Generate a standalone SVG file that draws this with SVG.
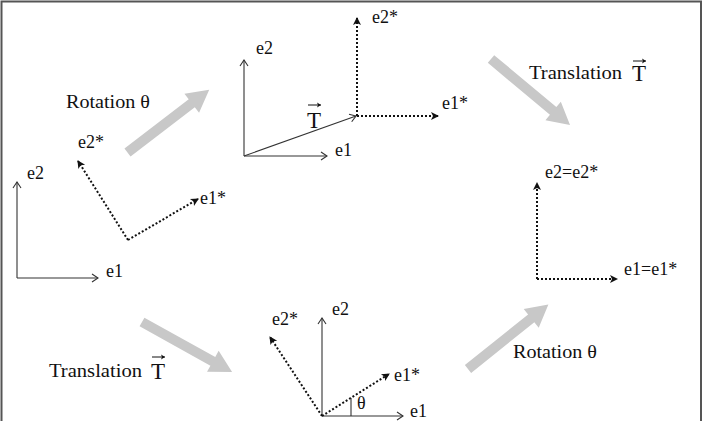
<svg xmlns="http://www.w3.org/2000/svg" width="703" height="421" viewBox="0 0 703 421">
<defs>
<style>
.ax{stroke:#333;stroke-width:1.1;fill:none}
.dt{stroke:#111;stroke-width:2;stroke-dasharray:2 2;fill:none}
.t{font-family:"Liberation Serif","Times New Roman",serif;font-size:18px;fill:#111}
.big{font-family:"Liberation Serif","Times New Roman",serif;font-size:23px;fill:#111}
.ga{fill:#c8c8c8}
</style>
<marker id="open" markerUnits="userSpaceOnUse" markerWidth="12" markerHeight="12" viewBox="-8 -6 10 12" refX="0" refY="0" orient="auto">
<path d="M-6,-4 L0,0 L-6,4" fill="none" stroke="#333" stroke-width="1.1"/>
</marker>
<marker id="fill" markerUnits="userSpaceOnUse" markerWidth="12" markerHeight="12" viewBox="-10 -6 12 12" refX="0" refY="0" orient="auto">
<path d="M1,0 L-7,-4 L-5,0 L-7,4 Z" fill="#111"/>
</marker>
<marker id="vec" markerUnits="userSpaceOnUse" markerWidth="8" markerHeight="8" viewBox="-5 -4 6 8" refX="0" refY="0" orient="auto">
<path d="M0,0 L-4,-2.5 L-3,0 L-4,2.5 Z" fill="#111"/>
</marker>
<polygon id="garrow" points="0,-5 81,-5 81,-12 103,0 81,12 81,5 0,5"/>
</defs>
<rect width="703" height="421" fill="#fff"/>
<path d="M1.5,421 V1.5 H701 V421" fill="none" stroke="#555" stroke-width="2"/>

<g id="frame-left">
<path class="ax" d="M17,278 V182" marker-end="url(#open)"/>
<path class="ax" d="M17,278 H98" marker-end="url(#open)"/>
<text class="t" x="27" y="179">e2</text>
<text class="t" x="106" y="277">e1</text>
<path class="dt" d="M128,240 L78,161" marker-end="url(#fill)"/>
<path class="dt" d="M128,240 L198,199" marker-end="url(#fill)"/>
<text class="t" x="78" y="148">e2*</text>
<text class="t" x="200" y="204">e1*</text>
</g>

<g id="frame-top">
<path class="ax" d="M244,156 V60" marker-end="url(#open)"/>
<path class="ax" d="M244,156 H327" marker-end="url(#open)"/>
<path class="ax" d="M244,156 L356,116" marker-end="url(#open)"/>
<text class="t" x="256" y="54">e2</text>
<text class="t" x="335" y="156">e1</text>
<text class="big" x="307" y="128">T</text>
<path d="M308,105 H321" stroke="#111" stroke-width="1" fill="none" marker-end="url(#vec)"/>
<path class="dt" d="M357,116 V18" marker-end="url(#fill)"/>
<path class="dt" d="M357,116 H438" marker-end="url(#fill)"/>
<text class="t" x="372" y="23">e2*</text>
<text class="t" x="442" y="109">e1*</text>
</g>

<g id="frame-right">
<path class="dt" d="M537,279 V183" marker-end="url(#fill)"/>
<path class="dt" d="M537,279 H617" marker-end="url(#fill)"/>
<text class="t" x="545" y="178">e2=e2*</text>
<text class="t" x="624" y="275">e1=e1*</text>
</g>

<g id="frame-bottom">
<path class="ax" d="M322,416 V318" marker-end="url(#open)"/>
<path class="ax" d="M322,416 H403" marker-end="url(#open)"/>
<text class="t" x="332" y="315">e2</text>
<text class="t" x="410" y="417">e1</text>
<path class="dt" d="M322,416 L270,337" marker-end="url(#fill)"/>
<path class="dt" d="M322,416 L389,374" marker-end="url(#fill)"/>
<text class="t" x="272" y="325">e2*</text>
<text class="t" x="394" y="381">e1*</text>
<path class="ax" d="M351,416 V398"/>
<text class="t" x="357" y="409">θ</text>
</g>

<g id="labels">
<text class="t" x="66" y="108" textLength="84" lengthAdjust="spacingAndGlyphs">Rotation θ</text>
<text class="t" x="529" y="79" textLength="93" lengthAdjust="spacingAndGlyphs">Translation</text>
<text class="big" x="632" y="81">T</text>
<path d="M633,61 H646" stroke="#111" stroke-width="1" fill="none" marker-end="url(#vec)"/>
<text class="t" x="49" y="377" textLength="93" lengthAdjust="spacingAndGlyphs">Translation</text>
<text class="big" x="151" y="379">T</text>
<path d="M152,357 H165" stroke="#111" stroke-width="1" fill="none" marker-end="url(#vec)"/>
<text class="t" x="513" y="358" textLength="84" lengthAdjust="spacingAndGlyphs">Rotation θ</text>
</g>

<g id="connectors">
<use href="#garrow" class="ga" transform="translate(127.5,152.5) rotate(-37.5)"/>
<use href="#garrow" class="ga" transform="translate(491,59) rotate(39.9)"/>
<use href="#garrow" class="ga" transform="translate(142,322) rotate(29)"/>
<use href="#garrow" class="ga" transform="translate(468,369) rotate(-38.7)"/>
</g>
</svg>
